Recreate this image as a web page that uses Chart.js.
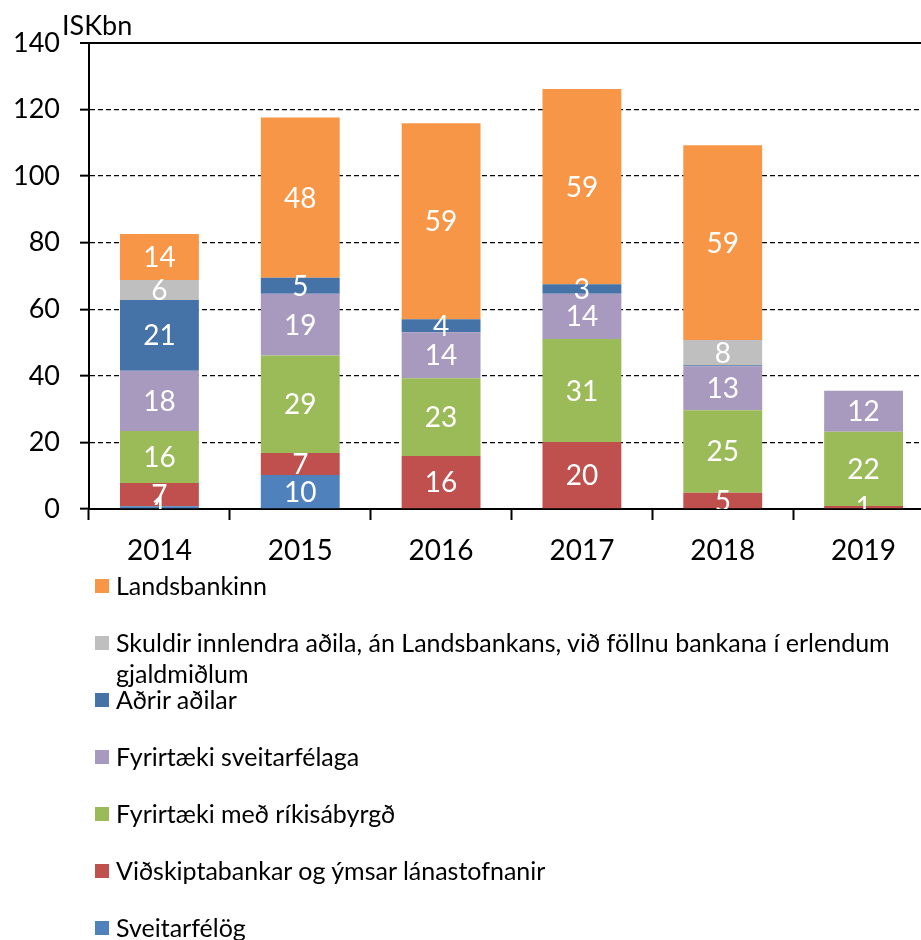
<!DOCTYPE html>
<html><head><meta charset="utf-8">
<script src="https://cdn.jsdelivr.net/npm/chart.js@4"></script>
<style>
html,body{margin:0;padding:0;background:#fff;overflow:hidden;width:921px;height:940px;position:relative;}
#wrap{position:absolute;left:0;top:0;width:940px;height:580px;}
#legend{position:absolute;left:0;top:0;width:921px;height:940px;font-family:Lato,sans-serif;font-size:25px;color:#000;}
.item{position:absolute;left:95px;width:820px;height:31px;}
.box{position:absolute;left:0;top:8px;width:14px;height:14px;}
.txt{position:absolute;left:21px;top:-1px;width:800px;line-height:31px;}
</style>
</head><body>
<div id="wrap"><canvas id="c" width="940" height="580"></canvas></div>
<div id="legend"></div>
<script>
const categories = ['2014', '2015', '2016', '2017', '2018', '2019'];
const sveitarfelog   = [0.8, 10.2, 0, 0, 0, 0];
const vidskiptabankar = [7.0, 6.6, 15.9, 20.1, 4.9, 0.9];
const rikisabyrgd    = [15.6, 29.3, 23.4, 31.0, 24.8, 22.3];
const fyrirtSveit    = [18.1, 18.6, 13.8, 13.6, 13.2, 12.3];
const adrirAdilar    = [21.3, 4.8, 3.9, 2.8, 0.3, 0];
const skuldirInnl    = [6.0, 0, 0, 0, 7.6, 0];
const landsbankinn   = [13.8, 48.1, 58.9, 58.7, 58.5, 0];
const yTicks = [0, 20, 40, 60, 80, 100, 120, 140];
const yTitle = 'ISKbn';

const series = [
  {label: 'Sveitarfélög', data: sveitarfelog, color: '#4F81BD'},
  {label: 'Viðskiptabankar og ýmsar lánastofnanir', data: vidskiptabankar, color: '#C0504D'},
  {label: 'Fyrirtæki með ríkisábyrgð', data: rikisabyrgd, color: '#9BBB59'},
  {label: 'Fyrirtæki sveitarfélaga', data: fyrirtSveit, color: '#A899BE'},
  {label: 'Aðrir aðilar', data: adrirAdilar, color: '#4572A7'},
  {label: 'Skuldir innlendra aðila, án Landsbankans, við föllnu bankana í erlendum gjaldmiðlum', data: skuldirInnl, color: '#BFBFBF'},
  {label: 'Landsbankinn', data: landsbankinn, color: '#F79646'}
];

const FONT = 'Lato, sans-serif';

const labelPlugin = {
  id: 'segLabels',
  afterDatasetsDraw(chart) {
    const ctx = chart.ctx, a = chart.chartArea;
    ctx.save();
    ctx.beginPath();
    ctx.rect(a.left, a.top, a.right - a.left, a.bottom - a.top);
    ctx.clip();
    ctx.fillStyle = '#fff';
    ctx.font = '28px ' + FONT;
    ctx.textAlign = 'center';
    ctx.textBaseline = 'middle';
    chart.data.datasets.forEach((ds, di) => {
      const meta = chart.getDatasetMeta(di);
      meta.data.forEach((el, i) => {
        const v = ds.data[i];
        const r = Math.round(v);
        if (r < 1) return;
        ctx.fillText(String(r), el.x, (el.y + el.base) / 2 + 1);
      });
    });
    ctx.restore();
  },
  afterDraw(chart) {
    const ctx = chart.ctx;
    ctx.save();
    ctx.fillStyle = '#000';
    ctx.font = '27px ' + FONT;
    ctx.textAlign = 'left';
    ctx.textBaseline = 'alphabetic';
    ctx.fillText(yTitle, 62, 35);
    ctx.restore();
  }
};

const isDashed = c => c.tick && c.tick.value > 0 && c.tick.value < 140;

new Chart(document.getElementById('c'), {
  type: 'bar',
  data: {
    labels: categories,
    datasets: series.map(s => ({
      label: s.label, data: s.data, backgroundColor: s.color,
      borderWidth: 0, categoryPercentage: 1, barPercentage: 0.56
    }))
  },
  options: {
    responsive: false, animation: false, devicePixelRatio: 1,
    layout: {padding: {top: 43, right: 6, left: 0, bottom: 0}},
    plugins: {legend: {display: false}, tooltip: {enabled: false}, title: {display: false}},
    scales: {
      x: {
        stacked: true,
        afterFit: s => { s.height = 71; },
        grid: {drawOnChartArea: false, drawTicks: true, tickLength: 11, tickColor: '#000', tickWidth: 2, offset: true},
        border: {display: true, color: '#000', width: 2},
        ticks: {color: '#000', font: {family: FONT, size: 28}, padding: 14, maxRotation: 0}
      },
      y: {
        stacked: true, min: 0, max: 140,
        afterFit: s => { s.width = 89; },
        afterBuildTicks: s => { s.ticks = yTicks.map(v => ({value: v})); },
        grid: {
          color: '#000',
          lineWidth: c => (c.tick && c.tick.value === 140) ? 2 : 1.3,
          tickLength: 9, tickColor: '#000', tickWidth: 2,
          borderDash: c => isDashed(c) ? [5, 3] : []
        },
        border: {display: true, color: '#000', width: 2, dash: c => isDashed(c) ? [5, 3] : []},
        ticks: {color: '#000', font: {family: FONT, size: 27}, padding: 20}
      }
    }
  },
  plugins: [labelPlugin]
});

// legend (top of stack first)
const lg = document.getElementById('legend');
series.slice().reverse().forEach((s, i) => {
  const it = document.createElement('div');
  it.className = 'item';
  it.style.top = (586 + i * 57 - 15) + 'px';
  const b = document.createElement('div');
  b.className = 'box'; b.style.background = s.color;
  const t = document.createElement('div');
  t.className = 'txt'; t.textContent = s.label;
  it.appendChild(b); it.appendChild(t); lg.appendChild(it);
});
</script>
</body></html>
